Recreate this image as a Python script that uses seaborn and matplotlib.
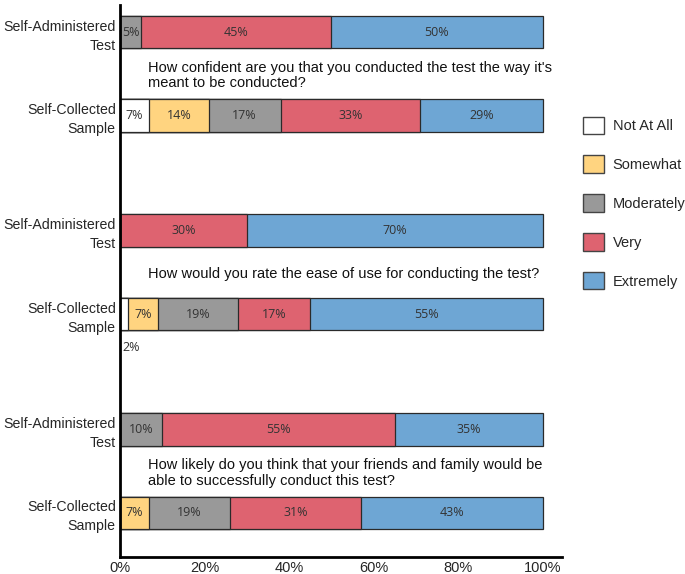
import numpy as np
import pandas as pd
import matplotlib
matplotlib.use('Agg')
import matplotlib.pyplot as plt
import seaborn as sns
from matplotlib.patches import Patch

# Dati (percentuali)
categorie = ['Not At All', 'Somewhat', 'Moderately', 'Very', 'Extremely']
righe = ['Self-Administered\nTest', 'Self-Collected\nSample'] * 3
domande = [
    "How confident are you that you conducted the test the way it's\nmeant to be conducted?",
    "How would you rate the ease of use for conducting the test?",
    "How likely do you think that your friends and family would be\nable to successfully conduct this test?",
]
not_at_all = [0, 7, 0, 2, 0, 0]
somewhat = [0, 14, 0, 7, 0, 7]
moderately = [5, 17, 0, 19, 10, 19]
very = [45, 33, 30, 17, 55, 31]
extremely = [50, 29, 70, 55, 35, 43]
tick_x = [0, 20, 40, 60, 80, 100]

colori = ['#FFFFFF', '#FFD480', '#999999', '#DE6370', '#6EA6D4']

sns.set_theme(style='white')
plt.rcParams['font.family'] = ['Liberation Sans', 'DejaVu Sans']

df = pd.DataFrame({'Not At All': not_at_all, 'Somewhat': somewhat,
                   'Moderately': moderately, 'Very': very, 'Extremely': extremely})
cum = df.cumsum(axis=1)

# posizioni verticali: due barre per gruppo, tre gruppi
passo_gruppo = 2.38
pos = np.array([g * passo_gruppo + i for g in range(3) for i in range(2)])

fig = plt.figure(figsize=(6.85, 5.74), dpi=100)
ax = fig.add_axes([0.175, 0.0296, 0.645, 0.961])

# barre impilate: si disegnano i cumulativi dal più lungo al più corto
for cat, col in reversed(list(zip(categorie, colori))):
    sns.barplot(x=cum[cat].values, y=pos, orient='y', native_scale=True,
                width=0.39, color=col, saturation=1, errorbar=None,
                edgecolor='#2a2a2a', linewidth=0.9, ax=ax)

# etichette percentuali
for r in range(len(pos)):
    sinistra = 0
    for cat in categorie:
        v = df.loc[r, cat]
        if v > 0:
            if v < 4:
                ax.text(sinistra + 0.6, pos[r] + 0.4, f'{v}%', ha='left', va='center',
                        fontsize=9, color='#333333', family=['Open Sans', 'DejaVu Sans'])
            else:
                ax.text(sinistra + v / 2, pos[r], f'{v}%', ha='center', va='center',
                        fontsize=9, color='#333333', family=['Open Sans', 'DejaVu Sans'])
        sinistra += v

# testi delle domande
for g, testo in enumerate(domande):
    ax.text(6.6, pos[2 * g] + 0.52, testo, ha='left', va='center',
            fontsize=10.5, color='#111111', linespacing=1.15)

ax.set_xlim(0, 104.5)
ax.set_ylim(pos[-1] + 0.53, -0.32)
ax.set_yticks(pos)
ax.set_yticklabels(righe, fontsize=10.2, multialignment='right', linespacing=1.45)
ax.set_xticks(tick_x)
ax.set_xticklabels([f'{t}%' for t in tick_x], fontsize=10.5)
ax.tick_params(axis='both', length=0, pad=3)
ax.set_xlabel('')
ax.set_ylabel('')
sns.despine(ax=ax)
for s in ['left', 'bottom']:
    ax.spines[s].set_color('black')
    ax.spines[s].set_linewidth(2)

# legenda
handles = [Patch(facecolor=c, edgecolor='#444444', linewidth=1) for c in colori]
fig.legend(handles, categorie, loc='upper left', bbox_to_anchor=(0.851, 0.797),
           frameon=False, fontsize=10.5, handlelength=1.45, handleheight=1.45,
           handletextpad=0.6, labelspacing=1.48, borderpad=0, borderaxespad=0)

plt.savefig('out.png', dpi=100)
